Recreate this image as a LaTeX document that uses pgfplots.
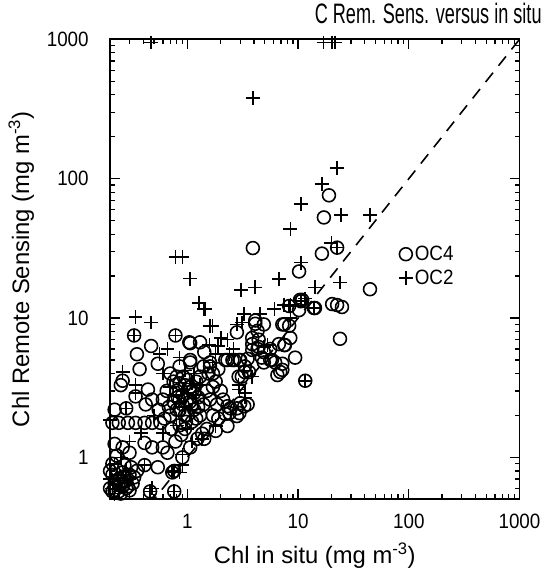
\documentclass[border=0pt]{standalone}
\usepackage{pgfplots}
\pgfplotsset{compat=1.18}
\usepackage{graphicx}
\usepackage{fontspec}
\setmainfont{Liberation Sans}
\newcommand{\tl}[1]{\scalebox{1}[1.1]{#1}}
\begin{document}
\begin{tikzpicture}
\begin{axis}[
  scale only axis, width=413pt, height=464pt,
  xmode=log, ymode=log,
  xmin=0.2, xmax=1000, ymin=0.5, ymax=1000,
  xtick={1,10,100,1000}, xticklabels={\tl{1},\tl{10},\tl{100},\tl{1000}},
  ytick={1,10,100,1000}, yticklabels={\tl{1},\tl{10},\tl{100},\tl{1000}},
  minor xtick={0.2,0.3,0.4,0.5,0.6,0.7,0.8,0.9,2,3,4,5,6,7,8,9,20,30,40,50,60,70,80,90,200,300,400,500,600,700,800,900},
  minor ytick={0.5,0.6,0.7,0.8,0.9,2,3,4,5,6,7,8,9,20,30,40,50,60,70,80,90,200,300,400,500,600,700,800,900},
  tick align=inside, major tick length=10pt, minor tick length=5pt,
  tick style={line width=1.3pt, black},
  axis line style={line width=1.8pt},
  /pgf/number format/assume math mode=true,
  tick label style={font=\fontsize{19}{22}\selectfont},
  xticklabel style={yshift=-11pt},
  yticklabel style={xshift=-18pt},
  title={\scalebox{0.87}[1.35]{C Rem. Sens. versus in situ}},
  title style={font=\fontsize{21}{24}\selectfont, at={(0.777,1)}, anchor=south, yshift=6pt},
  xlabel={Chl in situ (mg m\textsuperscript{-3})},
  ylabel={Chl Remote Sensing (mg m\textsuperscript{-3})},
  label style={font=\fontsize{24}{26}\selectfont},
  xlabel style={yshift=-8pt},
  ylabel style={yshift=6pt},
  legend style={draw=none, fill=none, at={(0.705,0.555)}, anchor=north west,
    font=\fontsize{19}{22}\selectfont, row sep=4pt, inner xsep=0pt, inner ysep=0pt,
    /tikz/every even column/.append style={column sep=0pt}},
  legend cell align=left,
  legend image code/.code={\draw[#1] plot coordinates {(0.3em,0pt)};},
]
\addplot[only marks, mark=o, mark size=6.5pt, line width=1.6pt] coordinates {
(3.9,31.8) (17.1,52.7) (19,76) (16.4,29) (22.5,32) (44.6,16.1) (14.2,11.8) (20.3,12.6) (22.5,12.4) (24.9,12)
(23.9,7.1) (11.6,3.55) (10.9,13.5) (10.2,21.6) (10.4,13.5) (13.9,11.8)
(8.3,12.2) (10.6,13.2) (10.2,11.4) (4.1,9.1) (4.9,9.0) (7.2,9.0) (3.85,7.2) (4.4,7.0) (8.5,7.2) (6.7,6.5)
(7.6,6.4) (9.4,5.2) (2.3,5.0) (2.65,5.0) (3.0,5.0) (3.5,5.1) (3.85,5.9) (4.4,6.2) (4.9,4.8) (5.8,5.0)
(7.2,4.7) (6.9,4.1) (3.3,4.1) (3.1,3.8) (6.5,3.9) (7.2,4.25) (4.7,5.2) (5.6,5.0) (6.2,4.8) (3.85,6.5)
(4.3,6.0) (4.9,5.7) (5.6,6.0) (7.5,6.4) (8.3,8.8) (7.5,9.0) (3.3,4.5) (3.6,4.1) (2.9,3.8)
(3.0,2.45) (2.8,2.25) (2.45,2.25) (2.3,1.68) (2.2,2.05) (1.8,1.55) (1.42,1.36) (1.23,1.36) (0.9,1.0)
(2.2,5.0) (2.55,5.0) (2.95,5.0) (4.1,9.6) (4.3,8.1) (2.8,7.9) (1.3,6.7) (1.04,6.7) (1.06,5.0)
(3.26,2.33) (3.5,2.4) (2.95,2.08) (2.3,2.33) (2.4,2.08) (2.8,1.98)
(0.33,7.5) (0.78,7.5) (0.47,6.3) (0.35,5.5) (0.54,4.7) (0.37,4.3) (1.06,6.6) (1.42,5.7) (0.85,4.5) (1.06,4.8)
(0.26,3.55) (0.25,3.3) (0.34,2.74) (0.44,3.07) (0.48,2.6) (0.42,2.4) (0.28,2.25) (0.22,2.2)
(0.21,1.77) (0.24,1.77) (0.29,1.77) (0.34,1.77) (0.41,1.77) (0.48,1.77) (0.57,1.77)
(0.22,1.25) (0.26,1.18) (0.23,1.03) (0.30,1.08) (0.41,1.27) (0.48,1.18) (0.6,1.18) (0.66,1.08)
(0.41,0.88) (0.54,0.85) (0.73,0.78) (1.06,1.18) (1.36,1.48) (1.5,1.6)
(0.21,0.57) (0.24,0.57) (0.28,0.6) (0.46,0.57) (0.76,0.57) (0.76,0.8)
(0.7,2.0) (0.75,2.5) (0.8,3.0) (0.85,2.2) (0.9,2.8) (0.95,3.3) (1.0,2.0) (1.0,3.6) (1.05,2.5) (1.1,3.0)
(1.15,2.2) (1.2,3.5) (1.25,2.7) (0.85,1.7) (0.95,1.6) (1.1,1.8) (1.3,2.0) (1.4,2.4) (1.5,3.0) (1.6,2.6)
(1.7,3.2) (1.55,4.0) (1.4,4.5) (1.6,4.5) (1.3,3.8) (1.8,3.5) (0.65,3.0) (0.6,2.6) (0.55,2.2) (0.62,1.9)
(0.7,4.0) (0.8,3.8)
(0.8,2.2) (0.9,2.4) (1.0,2.6) (1.1,2.4) (0.95,2.0) (1.05,3.2) (0.85,3.4) (0.75,3.5) (1.2,1.9) (0.88,1.45)
(0.78,1.3) (0.72,1.6) (0.92,3.8) (1.15,2.9) (0.82,2.7) (0.68,2.3) (1.25,2.3) (0.97,1.8)
(0.2,0.6) (0.22,0.65) (0.24,0.7) (0.21,0.75) (0.26,0.62) (0.28,0.68) (0.3,0.75) (0.23,0.82) (0.27,0.88)
(0.32,0.65) (0.25,0.55) (0.3,0.58) (0.33,0.72) (0.21,0.9) (0.35,0.8)
(0.22,0.58) (0.25,0.64) (0.27,0.73) (0.23,0.68) (0.29,0.62) (0.31,0.85) (0.2,0.8) (0.26,0.78)
(1.6,4.8) (1.7,4.0) (1.9,4.3) (2.0,3.0) (1.85,2.4) (2.1,2.6) (1.7,2.0) (1.9,1.9)
};
\addlegendentry{\tl{OC4}}
\addplot[only marks, mark=+, mark size=7pt, line width=1.6pt] coordinates {
(0.47,950) (17,950) (20.3,950) (21.5,950)
(3.9,380) (22.5,119) (16.4,92) (10.6,66) (24.4,55) (44.6,55) (8.5,43.4) (20,34.5) (22.5,32)
(0.78,27.5) (0.9,27.5) (10.6,25) (14.2,16.6) (23.9,18) (11.6,3.55) (0.33,7.5) (0.78,7.5)
(6.7,19) (3.06,15.9) (4.1,16.6) (1.45,11.6) (1.68,8.8) (6.1,11.6) (7.5,12.4) (8.5,12.4)
(3.26,10.7) (4.5,10.7) (8.5,10.0) (2.8,9.0) (3.1,9.3) (2.0,7.2) (2.3,7.0) (4.9,6.2) (5.3,6.4)
(3.26,4.2) (3.85,3.8) (1.58,6.4) (1.68,4.8) (1.06,19.2) (1.28,12.8) (1.42,11.6) (0.34,10.2)
(0.47,9.3) (1.6,8.8) (0.66,6.0) (0.56,5.5) (0.85,5.2) (0.26,4.1) (0.6,4.0) (0.34,3.3) (0.34,2.9)
(0.28,2.25) (0.2,1.85) (0.41,0.88) (0.73,0.78) (0.9,0.88) (0.85,0.78) (0.46,0.57) (0.48,0.6)
(0.76,0.57) (0.21,0.6) (0.24,0.57) (3.3,2.9) (2.95,3.07) (2.9,3.3) (3.3,2.7) (1.8,1.68) (1.36,1.36)
(0.76,0.8) (0.9,1.05) (1.1,1.3) (1.05,2.2) (1.2,2.8) (0.9,3.0) (1.3,3.3) (0.7,3.2) (0.95,4.2)
(1.15,4.0) (1.8,5.5) (2.4,5.5) (2.6,6.0) (1.9,6.3) (0.23,0.75) (0.27,0.65) (0.3,0.7) (0.22,0.9)
(0.25,1.0) (0.3,1.3) (0.38,1.5) (0.5,2.0) (0.6,1.5) (0.8,1.7) (1.0,1.6) (8.3,12.2) (10.6,13.2)
(13.9,11.8) (11.6,13.8)
(0.85,2.5) (1.0,2.9) (0.95,2.3) (1.1,3.4) (0.75,2.8) (0.2,0.7) (0.24,0.62) (0.28,0.8) (0.22,0.55)
};
\addlegendentry{\tl{OC2}}
\addplot[forget plot, dash pattern=on 12pt off 9pt, line width=1.6pt] coordinates {(0.2,0.2) (1000,1000)};
\coordinate (SW) at (rel axis cs:0,0);
\coordinate (NE) at (rel axis cs:1,1);
\end{axis}
\path ([xshift=-111pt,yshift=-71pt]SW) rectangle ([xshift=29pt,yshift=37pt]NE);
\end{tikzpicture}
\end{document}
